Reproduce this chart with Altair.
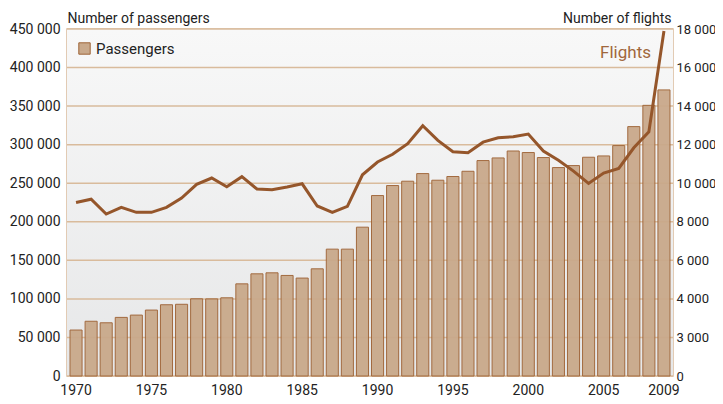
import altair as alt
import pandas as pd

years = list(range(1970, 2010))
passengers = [
    59600, 71000, 69000, 76000, 79000, 85500, 92400, 93000, 100100, 100000,
    101400, 119500, 132500, 133800, 130400, 127000, 139000, 164500, 164500, 193000,
    234000, 247000, 252600, 262500, 253900, 258700, 265500, 279400, 282800, 291800,
    289800, 283300, 270300, 272900, 283700, 285400, 298800, 323400, 351000, 371000,
]
flights = [
    9000, 9170, 8400, 8750, 8490, 8490, 8750, 9230, 9940, 10270,
    9820, 10340, 9700, 9660, 9800, 9970, 8820, 8490, 8800, 10440,
    11100, 11500, 12050, 12980, 12220, 11630, 11580, 12130, 12360, 12410,
    12550, 11670, 11190, 10630, 9990, 10530, 10770, 11840, 12670, 17900,
]
left_ticks = [0, 50000, 100000, 150000, 200000, 250000, 300000, 350000, 400000, 450000]
right_ticks = [0, 2000, 4000, 6000, 8000, 10000, 12000, 14000, 16000, 18000]
x_labels = [1970, 1975, 1980, 1985, 1990, 1995, 2000, 2005, 2009]

df = pd.DataFrame({"year": years, "passengers": passengers, "flights": flights,
                   "series": ["Passengers"] * len(years)})
grid_df = pd.DataFrame({"v": left_ticks})

W, H = 606, 347
FONT = "Roboto, Liberation Sans, sans-serif"
FS = 14
TAN = "#d9bb9c"
BAR_FILL = "#c9a98b"
BAR_STROKE = "#9f6437"
LINE_C = "#95562b"

xscale = alt.Scale(paddingInner=0.2, paddingOuter=0.2)
xaxis = alt.Axis(values=x_labels, labelAngle=0, ticks=False, domain=False, title=None,
                 labelFontSize=FS, labelColor="#222", labelPadding=7, labelFont=FONT)

bg = alt.Chart(alt.Data(values=[{}])).mark_rect(
    color=alt.Gradient(gradient="linear", x1=0, x2=0, y1=0, y2=1,
                       stops=[alt.GradientStop(color="#f8f8f8", offset=0),
                              alt.GradientStop(color="#e6e7e8", offset=1)])
).encode(x=alt.value(0), x2=alt.value(W), y=alt.value(0), y2=alt.value(H))

ldomain = alt.Scale(domain=[0, 450000], nice=False, zero=True)
laxis = alt.Axis(orient="left", values=left_ticks, grid=False, ticks=False,
                 domain=False, labelFontSize=FS, labelColor="#222", labelFont=FONT,
                 labelPadding=7,
                 labelExpr="replace(format(datum.value, ','), ',', ' ')",
                 title="Number of passengers", titleAngle=0, titleX=0, titleY=-7,
                 titleAlign="left", titleBaseline="alphabetic", titleFontSize=FS,
                 titleFontWeight="normal", titleFont=FONT, titleColor="#222")

grid = alt.Chart(grid_df).mark_rule(color=TAN, strokeWidth=1.5).encode(
    y=alt.Y("v:Q", scale=ldomain, axis=laxis)
)

bars = alt.Chart(df).mark_bar(stroke=BAR_STROKE, strokeWidth=1, opacity=0.95).encode(
    x=alt.X("year:O", scale=xscale, axis=xaxis),
    y=alt.Y("passengers:Q", scale=ldomain, axis=laxis),
    color=alt.Color("series:N", scale=alt.Scale(range=[BAR_FILL]),
                    legend=alt.Legend(orient="none", legendX=10, legendY=12, title=None,
                                      symbolType="square", symbolSize=130,
                                      symbolStrokeColor=BAR_STROKE, symbolStrokeWidth=1,
                                      symbolOpacity=1, labelFontSize=FS + 1, labelFont=FONT,
                                      labelColor="#222", labelOffset=4, padding=0)),
)

left = alt.layer(bg, grid, bars)

line = alt.Chart(df).mark_line(color=LINE_C, strokeWidth=3).encode(
    x=alt.X("year:O", scale=xscale, axis=xaxis),
    y=alt.Y("flights:Q", scale=alt.Scale(domain=[0, 18000], nice=False),
            axis=alt.Axis(orient="right", values=right_ticks, grid=False, ticks=False,
                          domain=False, labelFontSize=13, labelColor="#222", labelFont=FONT,
                          labelPadding=3,
                          labelExpr="datum.value == 2000 ? '3 000' : replace(format(datum.value, ','), ',', ' ')",
                          title="Number of flights", titleAngle=0, titleX=-2, titleY=-7,
                          titleAlign="right", titleBaseline="alphabetic", titleFontSize=FS,
                          titleFontWeight="normal", titleFont=FONT, titleColor="#222")),
)

flabel = alt.Chart(alt.Data(values=[{"t": "Flights"}])).mark_text(
    align="right", baseline="alphabetic", fontSize=17, font=FONT, color="#a0673c"
).encode(text="t:N", x=alt.value(584), y=alt.value(29))

chart = alt.layer(left, line, flabel).resolve_scale(y="independent").properties(
    width=W, height=H,
    autosize=alt.AutoSizeParams(type="none"),
    padding={"left": 59, "top": 21, "right": 42, "bottom": 28},
).configure_view(stroke=TAN, strokeWidth=1.5)

chart.save("out.html", embed_options={"renderer": "svg", "actions": False})
